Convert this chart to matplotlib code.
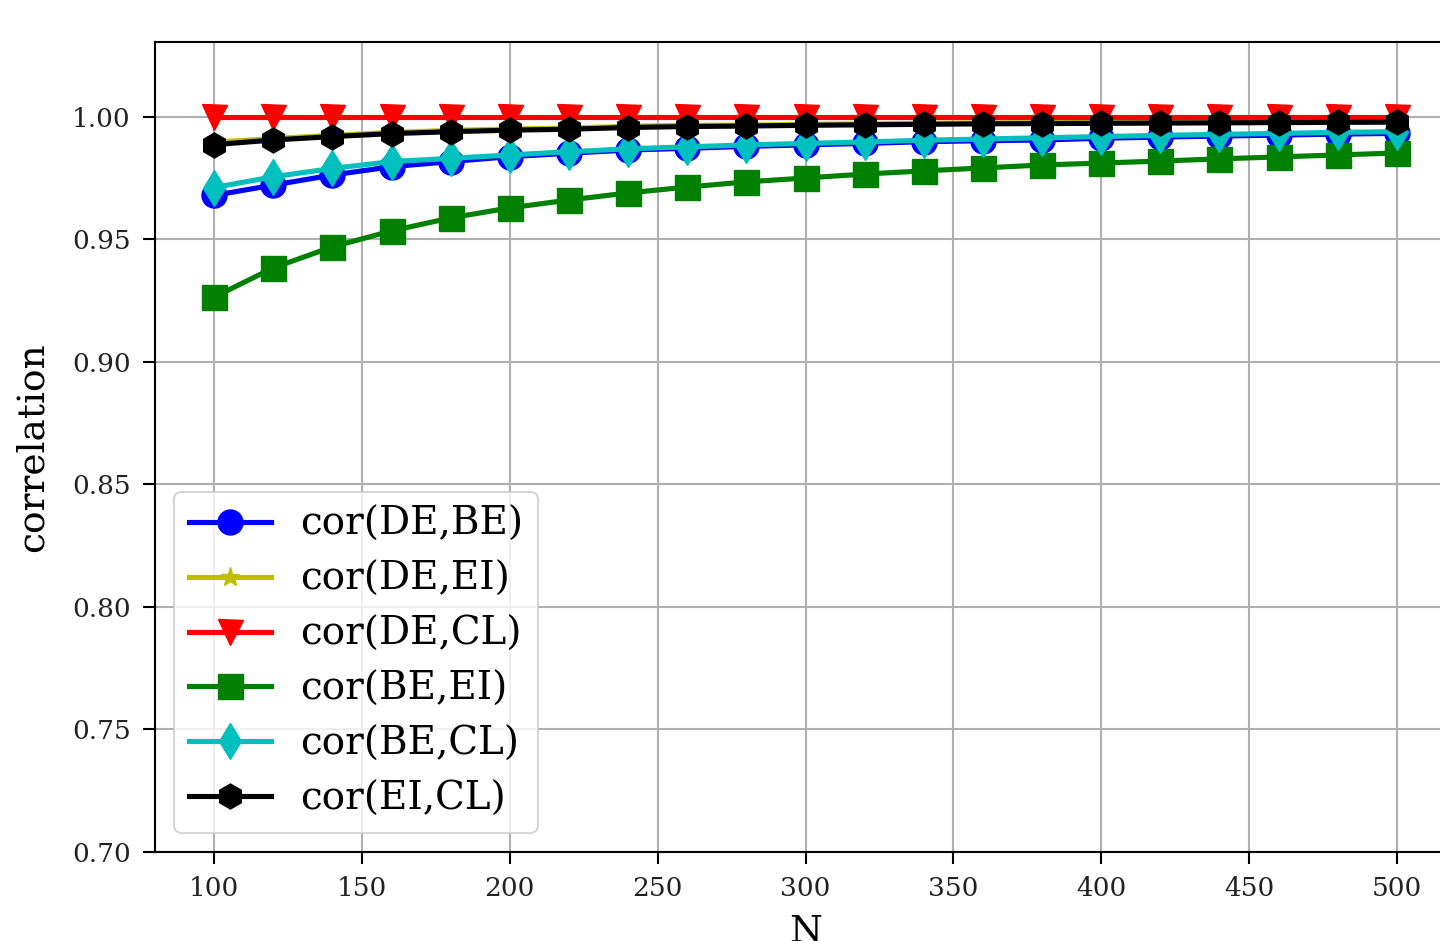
import matplotlib
matplotlib.use("Agg")
import matplotlib.pyplot as plt

N = [100, 120, 140, 160, 180, 200, 220, 240, 260, 280, 300,
     320, 340, 360, 380, 400, 420, 440, 460, 480, 500]

cor_DE_BE = [0.9680, 0.9722, 0.9763, 0.9797, 0.9818, 0.9838, 0.9852, 0.9865, 0.9872, 0.9880, 0.9886,
             0.9892, 0.9899, 0.9903, 0.9906, 0.9913, 0.9918, 0.9922, 0.9926, 0.9930, 0.9933]
cor_DE_EI = [0.9897, 0.9912, 0.9925, 0.9937, 0.9945, 0.9951, 0.9955, 0.9962, 0.9966, 0.9967, 0.9970,
             0.9972, 0.9974, 0.9976, 0.9977, 0.9978, 0.9979, 0.9980, 0.9981, 0.9982, 0.9983]
cor_DE_CL = [0.9998] * 21
cor_BE_EI = [0.9265, 0.9384, 0.9470, 0.9535, 0.9588, 0.9629, 0.9661, 0.9690, 0.9714, 0.9735, 0.9751,
             0.9767, 0.9780, 0.9792, 0.9804, 0.9812, 0.9820, 0.9829, 0.9837, 0.9845, 0.9853]
cor_BE_CL = [0.9712, 0.9756, 0.9790, 0.9818, 0.9831, 0.9845, 0.9858, 0.9870, 0.9878, 0.9886, 0.9892,
             0.9898, 0.9905, 0.9910, 0.9915, 0.9920, 0.9925, 0.9929, 0.9933, 0.9937, 0.9940]
cor_EI_CL = [0.9887, 0.9906, 0.9920, 0.9932, 0.9940, 0.9946, 0.9950, 0.9957, 0.9961, 0.9963, 0.9966,
             0.9968, 0.9970, 0.9972, 0.9973, 0.9974, 0.9975, 0.9976, 0.9977, 0.9978, 0.9979]

labels = ["cor(DE,BE)", "cor(DE,EI)", "cor(DE,CL)", "cor(BE,EI)", "cor(BE,CL)", "cor(EI,CL)"]
yticks = [0.70, 0.75, 0.80, 0.85, 0.90, 0.95, 1.00]
xticks = [100, 150, 200, 250, 300, 350, 400, 450, 500]

plt.rcParams['font.family'] = ['DejaVu Serif']

fig = plt.figure(figsize=(14.4, 9.41), dpi=100)
ax = fig.add_axes([155/1440, 89/941, (1456-155)/1440, (852-42)/941])

series = [cor_DE_BE, cor_DE_EI, cor_DE_CL, cor_BE_EI, cor_BE_CL, cor_EI_CL]
styles = [('b', 'o', 18), ('y', '*', 14), ('r', 'v', 18), ('g', 's', 18), ('c', 'd', 18), ('k', 'h', 18)]
for s, (c, m, ms), lab in zip(series, styles, labels):
    ax.plot(N, s, color=c, marker=m, markersize=ms, linewidth=3.7, label=lab)

ax.set_xlim(80, 520)
ax.set_ylim(0.70, 1.0306)
ax.set_xticks(xticks)
ax.set_yticks(yticks)
ax.set_yticklabels([f"{v:.2f}" for v in yticks])
ax.grid(True, color='#b0b0b0', linewidth=1.5)
ax.set_axisbelow(True)
for sp in ax.spines.values():
    sp.set_linewidth(1.5)
ax.tick_params(axis='both', labelsize=19, length=8.5, width=1.5, pad=9, labelcolor='#222222')
ax.set_ylabel("correlation", fontsize=27, labelpad=15)
ax.set_xlabel("N", fontsize=27, labelpad=9)

leg = ax.legend(loc='lower left', fontsize=28, borderaxespad=0.5, handlelength=2.1,
                handletextpad=0.75, labelspacing=0.46, borderpad=0.38,
                framealpha=0.8, edgecolor='#cccccc')
leg.get_frame().set_linewidth(1.5)

fig.savefig("out.png", dpi=100)
